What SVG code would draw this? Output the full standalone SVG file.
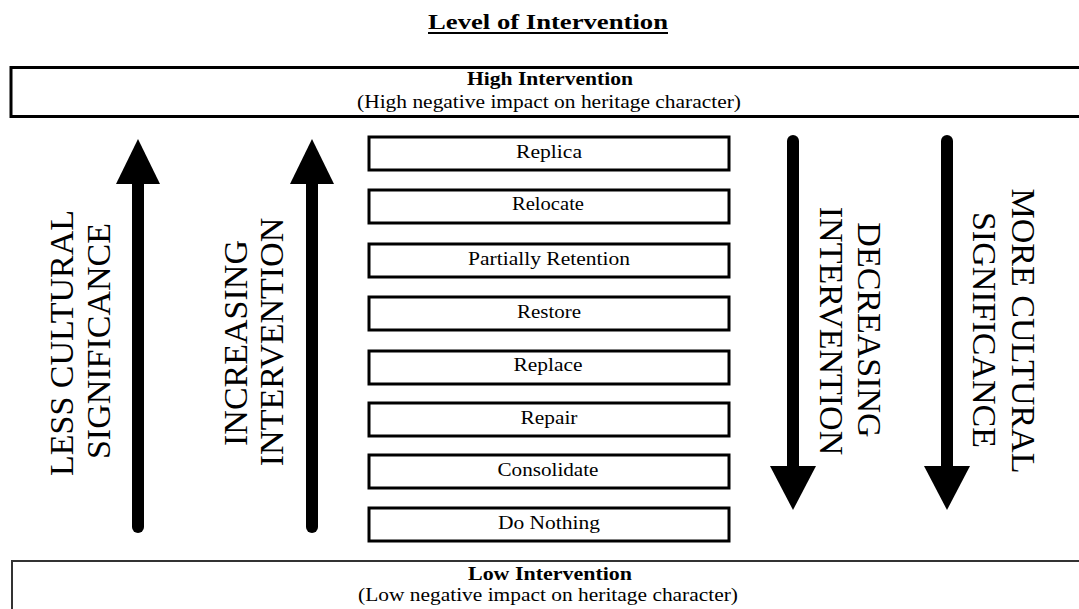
<svg xmlns="http://www.w3.org/2000/svg" width="1079" height="609" viewBox="0 0 1079 609">
<style>
.t{font-family:"Liberation Serif","Times New Roman",serif;fill:#000}
.box{fill:#fff;stroke:#000;stroke-width:3}
.lbl{font-size:18px;text-anchor:middle}
.big{font-size:34px;text-anchor:middle}
.b{font-weight:bold}
.shaft{stroke:#000;stroke-width:12;stroke-linecap:round;fill:none}
</style>
<rect width="1079" height="609" fill="#fff"/>
<g id="title">
<text class="t b" x="428" y="29" font-size="22" textLength="240" lengthAdjust="spacingAndGlyphs">Level of Intervention</text>
<line x1="428" y1="33" x2="668" y2="33" stroke="#000" stroke-width="2"/>
</g>
<g id="high">
<rect x="11" y="67.5" width="1080" height="49" fill="#fff" stroke="#000" stroke-width="3"/>
<text class="t b lbl" x="550" y="85" textLength="166" lengthAdjust="spacingAndGlyphs">High Intervention</text>
<text class="t lbl" x="549" y="108" textLength="384" lengthAdjust="spacingAndGlyphs">(High negative impact on heritage character)</text>
</g>
<g id="low">
<rect x="12" y="561" width="1080" height="60" fill="#fff" stroke="#333" stroke-width="2"/>
<text class="t b lbl" x="550" y="580" textLength="164" lengthAdjust="spacingAndGlyphs">Low Intervention</text>
<text class="t lbl" x="548" y="601" textLength="380" lengthAdjust="spacingAndGlyphs">(Low negative impact on heritage character)</text>
</g>
<g id="n-replica"><rect class="box" x="369" y="137" width="360" height="33"/><text class="t lbl" x="549" y="158" textLength="66" lengthAdjust="spacingAndGlyphs">Replica</text></g>
<g id="n-relocate"><rect class="box" x="369" y="190" width="360" height="33"/><text class="t lbl" x="548" y="210" textLength="72" lengthAdjust="spacingAndGlyphs">Relocate</text></g>
<g id="n-partial"><rect class="box" x="369" y="244" width="360" height="33"/><text class="t lbl" x="549" y="265" textLength="162" lengthAdjust="spacingAndGlyphs">Partially Retention</text></g>
<g id="n-restore"><rect class="box" x="369" y="297" width="360" height="33"/><text class="t lbl" x="549" y="318" textLength="64" lengthAdjust="spacingAndGlyphs">Restore</text></g>
<g id="n-replace"><rect class="box" x="369" y="351" width="360" height="33"/><text class="t lbl" x="548" y="371" textLength="69" lengthAdjust="spacingAndGlyphs">Replace</text></g>
<g id="n-repair"><rect class="box" x="369" y="403" width="360" height="33"/><text class="t lbl" x="549" y="424" textLength="57" lengthAdjust="spacingAndGlyphs">Repair</text></g>
<g id="n-consolidate"><rect class="box" x="369" y="455" width="360" height="33"/><text class="t lbl" x="548" y="476" textLength="101" lengthAdjust="spacingAndGlyphs">Consolidate</text></g>
<g id="n-donothing"><rect class="box" x="369" y="508" width="360" height="33"/><text class="t lbl" x="549" y="529" textLength="102" lengthAdjust="spacingAndGlyphs">Do Nothing</text></g>
<g id="connectors">
<line class="shaft" x1="138" y1="180" x2="138" y2="527"/>
<polygon points="138,139 116,184 160,184"/>
<line class="shaft" x1="312" y1="180" x2="312" y2="527"/>
<polygon points="312,139 290,184 334,184"/>
<line class="shaft" x1="793" y1="141" x2="793" y2="470"/>
<polygon points="793,510 770,466 816,466"/>
<line class="shaft" x1="947" y1="141" x2="947" y2="470"/>
<polygon points="947,510 924,466 970,466"/>
</g>
<g id="labels">
<text class="t big" transform="translate(73,343) rotate(-90)">LESS CULTURAL</text>
<text class="t big" transform="translate(110,341) rotate(-90)">SIGNIFICANCE</text>
<text class="t big" transform="translate(247,343) rotate(-90)">INCREASING</text>
<text class="t big" transform="translate(283,342) rotate(-90)">INTERVENTION</text>
<text class="t big" transform="translate(858,330) rotate(90)">DECREASING</text>
<text class="t big" transform="translate(820,331) rotate(90)">INTERVENTION</text>
<text class="t big" transform="translate(1012,331) rotate(90)">MORE CULTURAL</text>
<text class="t big" transform="translate(973,330) rotate(90)">SIGNIFICANCE</text>
</g>
</svg>
